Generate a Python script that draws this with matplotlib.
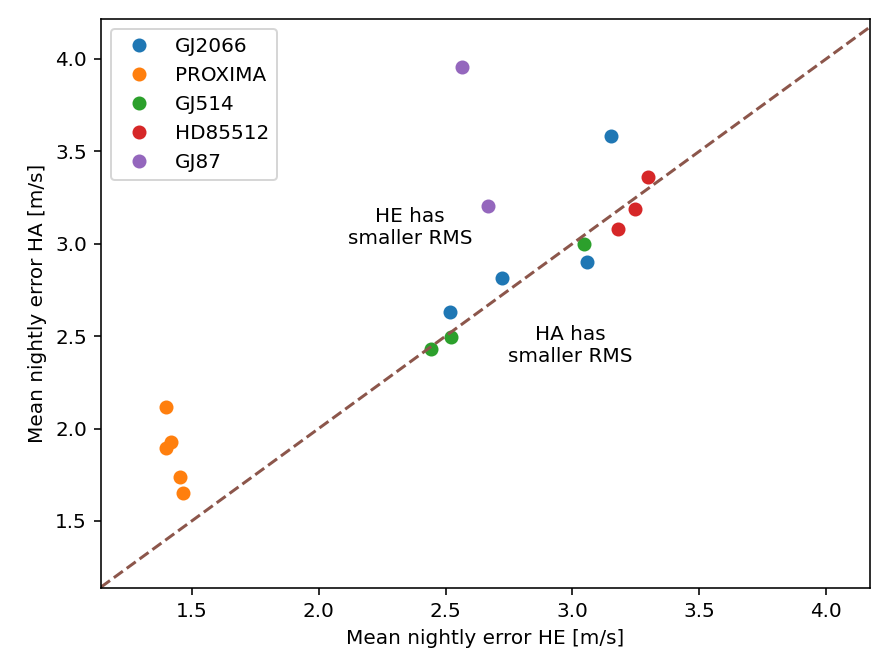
import numpy as np
import matplotlib.pyplot as plt

# mean nightly errors per star [m/s]
stars = ['GJ2066', 'PROXIMA', 'GJ514', 'HD85512', 'GJ87']
he_err = {
    'GJ2066': [3.154, 3.059, 2.724, 2.516],
    'PROXIMA': [1.398, 1.417, 1.398, 1.453, 1.465],
    'GJ514': [3.047, 2.441, 2.520],
    'HD85512': [3.299, 3.248, 3.181],
    'GJ87': [2.563, 2.669],
}
ha_err = {
    'GJ2066': [3.583, 2.902, 2.815, 2.631],
    'PROXIMA': [2.117, 1.927, 1.895, 1.738, 1.651],
    'GJ514': [3.000, 2.431, 2.496],
    'HD85512': [3.361, 3.188, 3.080],
    'GJ87': [3.957, 3.205],
}
lims = (1.142, 4.173)
ylims = (1.137, 4.216)

fig = plt.figure(figsize=(871 / 144, 649 / 144), dpi=144)
ax = fig.add_axes([101 / 871, 61 / 649, 769 / 871, 569 / 649])

for s in stars:
    ax.plot(he_err[s], ha_err[s], 'o', label=s)

ax.plot(lims, lims, '--')
ax.text(2.36, 3.09, 'HE has\nsmaller RMS', ha='center', va='center')
ax.text(2.99, 2.45, 'HA has\nsmaller RMS', ha='center', va='center')

ax.set_xlim(lims)
ax.set_ylim(ylims)
ax.set_xlabel('Mean nightly error HE [m/s]')
ax.set_ylabel('Mean nightly error HA [m/s]')
ax.legend(loc='upper left')

fig.savefig('out.png', dpi=144)
